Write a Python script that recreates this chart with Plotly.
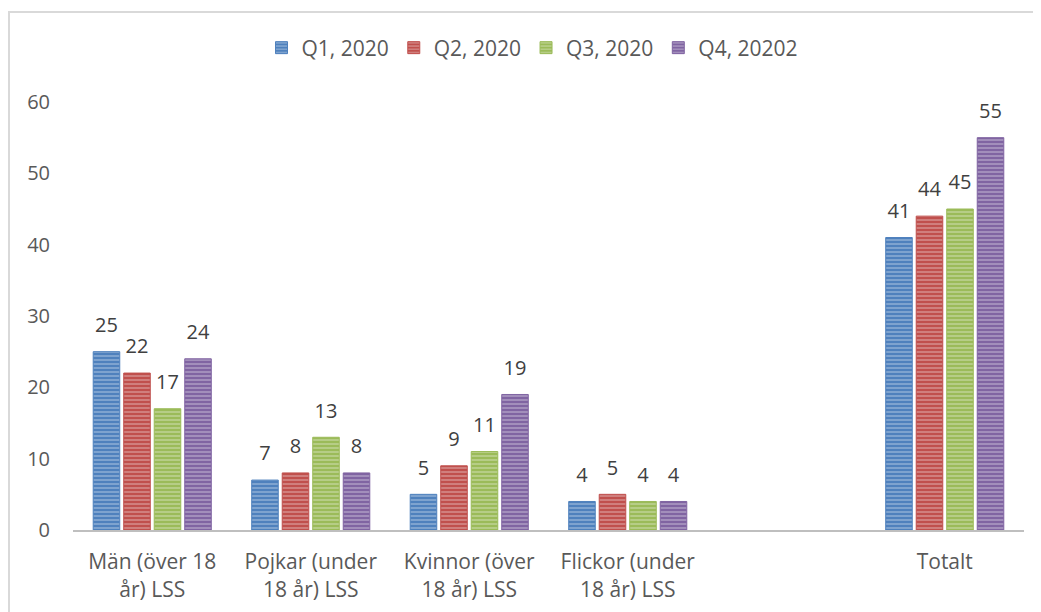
import plotly.graph_objects as go

categories = ["Män (över 18<br>år) LSS", "Pojkar (under<br>18 år) LSS", "Kvinnor (över<br>18 år) LSS",
              "Flickor (under<br>18 år) LSS", " ", "Totalt"]
series_names = ["Q1, 2020", "Q2, 2020", "Q3, 2020", "Q4, 20202"]
q1 = [25, 7, 5, 4, None, 41]
q2 = [22, 8, 9, 5, None, 44]
q3 = [17, 13, 11, 4, None, 45]
q4 = [24, 8, 19, 4, None, 55]
values = [q1, q2, q3, q4]
base_colors = ["#4F81BD", "#C0504D", "#9BBB59", "#8064A2"]
light_colors = ["#B9CDE5", "#E6B9B8", "#D7E4BD", "#CCC1DA"]

FONT = "Open Sans"
fig = go.Figure()
for i, (name, vals, bc, lc) in enumerate(zip(series_names, values, base_colors, light_colors)):
    fig.add_trace(go.Bar(
        name=name, x=categories, y=vals, offsetgroup=str(i),
        marker=dict(color=bc, line=dict(color=bc, width=1),
                    pattern=dict(shape="-", fgcolor=lc, bgcolor=bc, size=4, solidity=0.45, fillmode="overlay")),
        hoverinfo="x+y+name",
    ))
for i, vals in enumerate(values):
    fig.add_trace(go.Scatter(
        x=categories, y=vals, offsetgroup=str(i), mode="markers+text",
        marker=dict(size=22, opacity=0), showlegend=False, hoverinfo="skip",
        text=[("" if v is None else str(v)) for v in vals],
        textposition="top center", cliponaxis=False,
        textfont=dict(family=FONT, size=20, color="#404040"),
    ))

# page body has an 8px offset
OFF = 8
W, H = 1041, 612
L, R = 73 - OFF, W - (1024 - OFF)
T, B = 102 - OFF, H - (530 - OFF)
pw, ph = W - L - R, H - T - B
fx = lambda px: (px - OFF - L) / pw
fy = lambda py: (H - B - (py - OFF)) / ph

fig.update_layout(
    width=W, height=H,
    margin=dict(l=L, r=R, t=T, b=B),
    paper_bgcolor="white", plot_bgcolor="white",
    barmode="group", bargap=0.23, bargroupgap=0.13,
    scattermode="group", scattergap=0.23,
    font=dict(family=FONT, size=20, color="#595959"),
    legend=dict(orientation="h", x=0.5 - 16 / pw, xanchor="center", y=fy(48), yanchor="middle",
                font=dict(family=FONT, size=21, color="#595959"), traceorder="normal",
                itemwidth=30),
    xaxis=dict(type="category", categoryorder="array", categoryarray=categories,
               showline=True, linecolor="#BFBFBF", linewidth=2, showgrid=False, ticks="",
               ticklabelstandoff=12,
               tickfont=dict(family=FONT, size=21, color="#595959")),
    yaxis=dict(range=[0, 60], dtick=10, showgrid=False, showline=False, zeroline=False,
               ticks="", ticklabelstandoff=22,
               tickfont=dict(family=FONT, size=20, color="#595959")),
    shapes=[
        dict(type="line", xref="paper", yref="paper", x0=fx(9), x1=fx(9), y0=fy(11), y1=fy(640),
             line=dict(color="#D9D9D9", width=2)),
        dict(type="line", xref="paper", yref="paper", x0=fx(8), x1=fx(1060), y0=fy(12), y1=fy(12),
             line=dict(color="#D9D9D9", width=2)),
    ],
)
fig.write_html("out.html")
